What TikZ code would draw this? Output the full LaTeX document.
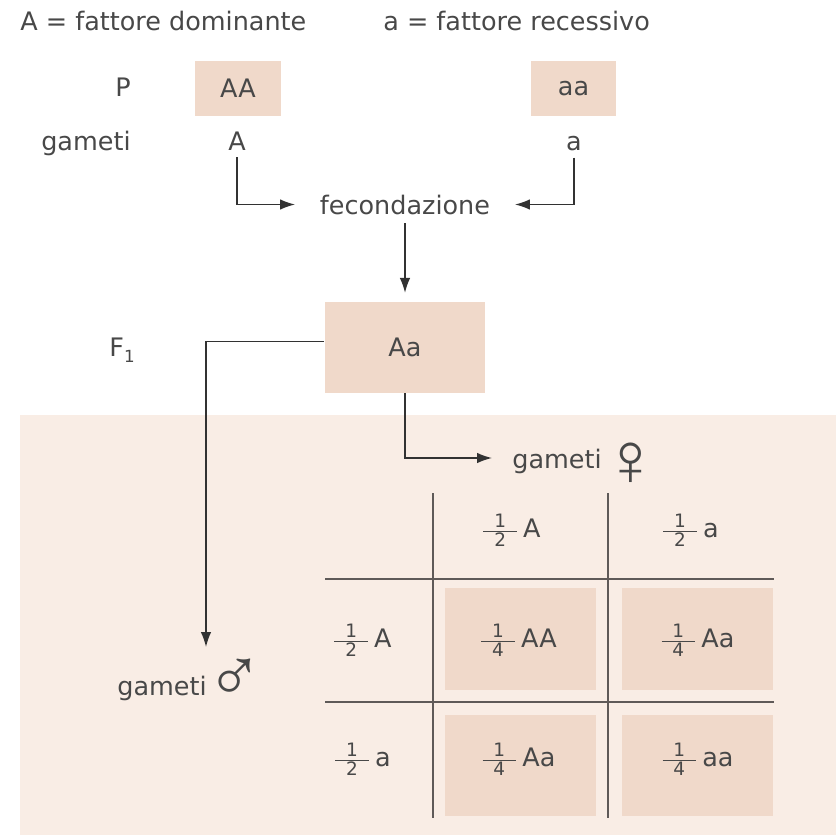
\documentclass[tikz,border=0pt]{standalone}
\usepackage{amsmath}
\usepackage{fontspec}
\setmainfont{DejaVu Sans}
\newfontfamily\symfont{Liberation Sans}
\usetikzlibrary{arrows.meta}

\definecolor{txt}{RGB}{72,72,72}
\definecolor{ln}{RGB}{50,50,50}
\definecolor{tabline}{RGB}{95,90,88}
\definecolor{bgpeach}{RGB}{249,237,229}
\definecolor{boxpeach}{RGB}{240,217,202}

% small fraction with a long bar, set in the text font
\newcommand\fr[2]{$\genfrac{}{}{0.5pt}{1}%
  {\makebox[19pt]{\fontsize{10.5}{10.5}\selectfont #1}}%
  {\makebox[19pt]{\fontsize{10.5}{10.5}\selectfont #2}}$}

\tikzset{
  lbl/.style={inner sep=0pt, text=txt},
  genbox/.style={fill=boxpeach, inner sep=0pt, text=txt},
  cellbox/.style={fill=boxpeach, minimum width=3.02cm, minimum height=2.04cm, inner sep=0pt},
  conn/.style={draw=ln, line width=0.85pt},
  arr/.style={conn, -{Latex[length=8.5pt,width=6pt]}},
  tline/.style={draw=tabline, line width=0.8pt},
  sexsym/.style={font=\symfont\fontsize{43}{43}\selectfont, text=txt, inner sep=0pt}
}

\begin{document}
\begin{tikzpicture}[x=0.02cm, y=-0.02cm, font=\fontsize{14.5}{17}\selectfont]
\useasboundingbox (0,0) rectangle (836,835);

% shaded lower panel
\fill[bgpeach] (20,415) rectangle (836,835);

% legend
\node[lbl, anchor=base west] (domin) at (20,31) {A = fattore dominante};
\node[lbl, anchor=base west] (recess) at (383,31) {a = fattore recessivo};

% parental generation
\node[lbl, anchor=base east] (plbl) at (131,96) {P};
\node[genbox, minimum width=1.72cm, minimum height=1.1cm] (pAA) at (238,88.5) {AA};
\node[genbox, minimum width=1.72cm, minimum height=1.1cm] (paa) at (573.5,88.5) {aa};

\node[lbl, anchor=base east] (glbl) at (131,150) {gameti};
\node[lbl, anchor=base, inner sep=4pt] (gA) at (237,150) {A};
\node[lbl, anchor=base, inner sep=4pt] (ga) at (574,150) {a};

\node[lbl, anchor=base, inner xsep=14pt, inner ysep=5pt] (fec) at (405,214) {fecondazione};

\draw[arr] (gA.south) |- (fec.west);
\draw[arr] (ga.south) |- (fec.east);

% F1 generation
\node[genbox, minimum width=3.22cm, minimum height=1.82cm] (F1) at (405,347.5) {Aa};
\node[lbl, anchor=base west] (f1lbl) at (109,356) {F\raisebox{-0.5ex}{\fontsize{9.5}{9.5}\selectfont 1}};

\draw[arr, shorten >=5pt] (fec.south) -- (F1.north);

% gametes of F1
\coordinate (mtip) at (206,647);
\coordinate (ftip) at (492,458);
\draw[arr] ([yshift=3.4pt]F1.west) -| (mtip);
\draw[arr] (F1.south) |- (ftip);

\node[lbl, anchor=base west] (fgam) at (512,468) {gameti};
\node[sexsym, anchor=center] (fsym) at (631,464) {♀};
\node[lbl, anchor=base west] (mgam) at (117,695) {gameti};
\node[sexsym, anchor=center] (msym) at (235,680) {♂};

% Punnett square grid
\coordinate (v1t) at (433,493); \coordinate (v1b) at (433,818);
\coordinate (v2t) at (608,493); \coordinate (v2b) at (608,818);
\coordinate (h1l) at (325,579); \coordinate (h1r) at (774,579);
\coordinate (h2l) at (325,702); \coordinate (h2r) at (774,702);
\draw[tline] (v1t) -- (v1b);
\draw[tline] (v2t) -- (v2b);
\draw[tline] (h1l) -- (h1r);
\draw[tline] (h2l) -- (h2r);

% offspring cells
\node[cellbox] (c11) at (520.5,639) {};
\node[cellbox] (c12) at (697.5,639) {};
\node[cellbox] (c21) at (520.5,765.5) {};
\node[cellbox] (c22) at (697.5,765.5) {};

% headers
\node[lbl] (hA) at (511,530) {\fr12\,A};
\node[lbl] (ha) at (690,530) {\fr12\,a};
\node[lbl] (rA) at (362,640) {\fr12\,A};
\node[lbl] (ra) at (362,759) {\fr12\,a};

% cell contents
\node[lbl] (tAA) at (518,640) {\fr14\,AA};
\node[lbl] (tAa1) at (697,640) {\fr14\,Aa};
\node[lbl] (tAa2) at (518,759) {\fr14\,Aa};
\node[lbl] (taa) at (697,759) {\fr14\,aa};
\end{tikzpicture}
\end{document}
